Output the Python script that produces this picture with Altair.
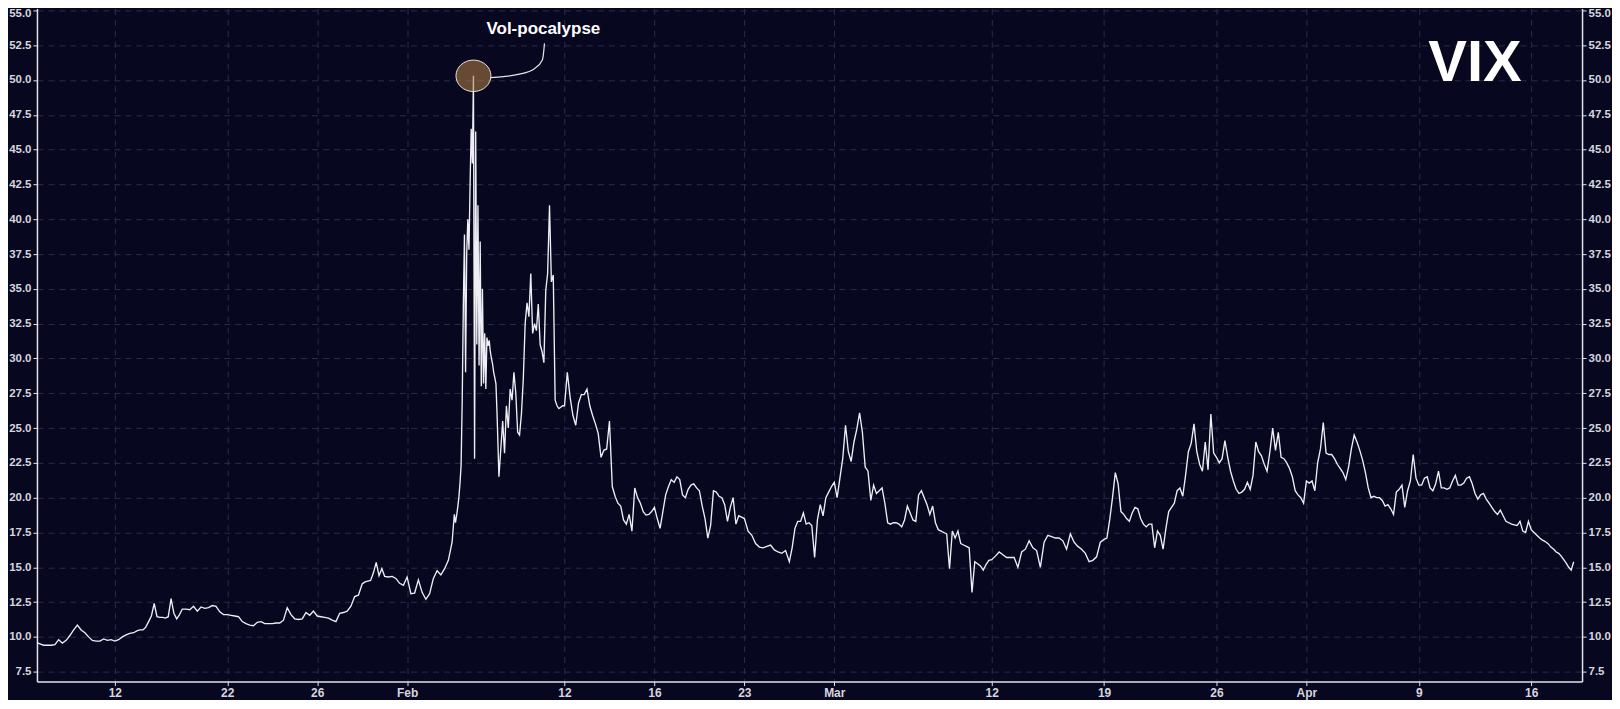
import altair as alt
import pandas as pd

# ---------------- data ----------------
trading_days = [
    "2018-01-08", "2018-01-09", "2018-01-10", "2018-01-11", "2018-01-12",
    "2018-01-16", "2018-01-17", "2018-01-18", "2018-01-19",
    "2018-01-22", "2018-01-23", "2018-01-24", "2018-01-25", "2018-01-26",
    "2018-01-29", "2018-01-30", "2018-01-31", "2018-02-01", "2018-02-02",
    "2018-02-05", "2018-02-06", "2018-02-07", "2018-02-08", "2018-02-09",
    "2018-02-12", "2018-02-13", "2018-02-14", "2018-02-15", "2018-02-16",
    "2018-02-20", "2018-02-21", "2018-02-22", "2018-02-23",
    "2018-02-26", "2018-02-27", "2018-02-28", "2018-03-01", "2018-03-02",
    "2018-03-05", "2018-03-06", "2018-03-07", "2018-03-08", "2018-03-09",
    "2018-03-12", "2018-03-13", "2018-03-14", "2018-03-15", "2018-03-16",
    "2018-03-19", "2018-03-20", "2018-03-21", "2018-03-22", "2018-03-23",
    "2018-03-26", "2018-03-27", "2018-03-28", "2018-03-29",
    "2018-04-02", "2018-04-03", "2018-04-04", "2018-04-05", "2018-04-06",
    "2018-04-09", "2018-04-10", "2018-04-11", "2018-04-12", "2018-04-13",
    "2018-04-16", "2018-04-17",
]

# intraday VIX readings, one list per trading day
jan_vix = [
    [9.65, 9.65, 9.6, 9.6, 9.5, 9.4],
    [9.4, 9.4, 9.45, 9.8, 9.55, 9.75],
    [10.1, 10.5, 10.85, 10.5, 10.3, 10.0],
    [9.75, 9.7, 9.7, 9.85, 9.75, 9.8],
    [9.7, 9.8, 10.0, 10.15, 10.25, 10.3],
    [10.45, 10.5, 10.5, 10.7, 11.1, 11.5, 12.4, 11.45],
    [11.4, 11.4, 11.35, 11.45, 12.75, 11.7, 11.3, 11.6],
    [12.0, 12.0, 11.95, 12.2, 11.85, 12.15],
    [12.05, 12.1, 12.25, 12.2, 11.8, 11.6],
    [11.6, 11.55, 11.5, 11.45, 11.1, 10.95],
    [10.85, 10.8, 11.05, 11.1, 10.95, 10.95],
    [10.95, 11.0, 11.0, 11.2, 12.1, 11.6],
    [11.3, 11.25, 11.3, 11.75, 11.55, 11.85],
    [11.5, 11.45, 11.4, 11.35, 11.2, 11.1],
    [11.7, 11.75, 11.85, 12.2, 12.9, 13.0],
    [13.8, 13.95, 14.0, 14.05, 14.6, 15.35, 14.4, 14.9],
    [14.35, 14.3, 14.35, 14.2, 13.85, 13.7],
]
feb_vix = [
    [14.3, 13.1, 13.15, 14.1, 13.2, 12.7],
    [13.1, 14.2, 14.75, 14.45, 14.9, 15.5],
    [16.8, 17.8, 18.8, 18.2, 18.7, 19.3, 20.0, 21.0, 22.3, 27.0,
     33.8, 38.9, 29.0, 37.5, 40.0, 37.8, 42.5, 46.5, 44.0, 50.3],
    [22.8, 46.3, 31.0, 41.0, 29.5, 38.4, 28.0, 35.0, 28.2, 31.8,
     27.8, 31.5, 30.9, 31.3, 30.5, 30.0, 29.6, 29.0, 28.6, 28.2],
    [26.0, 21.5, 23.5, 25.5, 23.2, 26.6, 25.0, 27.8, 27.0, 29.0, 27.5, 24.7],
    [24.5, 26.0, 28.5, 32.5, 34.0, 33.0, 36.1, 31.8, 32.5, 32.0, 33.9, 31.0],
    [30.5, 29.7, 34.9, 36.1, 41.0, 35.5, 36.0, 27.0, 26.6, 26.4, 26.5, 26.6],
    [26.6, 29.0, 27.2, 25.9, 25.2, 26.8, 27.4, 27.4],
    [27.8, 26.6, 25.9, 25.3, 24.6, 22.9, 23.4, 23.5],
    [25.5, 20.8, 20.1, 19.6, 19.4, 18.4, 18.1, 18.8],
    [17.6, 20.7, 20.0, 19.6, 19.0, 18.75, 18.8, 19.0],
    [19.3, 18.5, 17.8, 19.0, 20.2, 20.8, 21.3, 21.1],
    [21.5, 21.3, 20.2, 20.0, 20.6, 20.9, 21.0, 20.7],
    [20.5, 19.4, 18.5, 17.1, 18.0, 20.5, 20.4, 20.1],
    [20.0, 19.5, 18.3, 19.3, 20.0, 18.1, 18.7, 18.6],
    [18.5, 17.6, 17.3, 16.7, 16.45, 16.4],
    [16.5, 16.6, 16.25, 16.1, 16.0, 16.2],
    [15.4, 16.4, 17.8, 18.3, 18.3, 18.9, 18.1, 18.2],
    [18.0, 15.7, 18.4, 19.5, 18.7, 20.0, 20.4, 20.8],
]
mar_vix = [
    [21.1, 20.0, 21.4, 22.8, 25.2, 23.3, 22.6, 24.0],
    [24.9, 26.1, 24.7, 22.2, 21.9, 19.8, 20.9, 20.3],
    [20.5, 20.7, 19.6, 18.2, 18.1, 18.2, 18.2, 18.1],
    [17.9, 18.4, 19.4, 18.9, 18.4, 18.3, 20.2, 20.5],
    [20.0, 19.5, 18.8, 19.4, 18.2, 17.7, 17.6, 17.5],
    [17.4, 14.9, 17.6, 17.1, 17.6, 16.7, 16.6, 16.5],
    [16.4, 13.2, 15.4, 15.25, 15.1, 14.8, 15.2, 15.5],
    [15.55, 15.8, 16.1, 15.9, 15.7, 15.7],
    [15.7, 15.0, 16.1, 16.3, 16.9, 16.4],
    [16.2, 15.0, 16.8, 17.3, 17.2, 17.1],
    [17.1, 16.9, 16.3, 17.4, 16.8, 16.5],
    [16.3, 16.0, 15.4, 15.5, 15.75, 16.8],
    [17.0, 17.1, 18.4, 20.0, 21.8, 21.0, 19.0, 18.8],
    [18.5, 18.3, 18.9, 19.3, 19.2, 18.5, 18.1, 17.9],
    [18.1, 18.1, 16.4, 17.6, 17.3, 16.3, 17.8, 19.0],
    [19.3, 19.6, 20.5, 20.7, 20.1, 21.6, 23.3, 23.9],
    [25.3, 23.3, 22.4, 21.9, 24.0, 22.0, 26.0, 23.2],
    [22.9, 22.5, 22.8, 24.1, 22.9, 21.9, 21.2, 20.6],
    [20.3, 20.4, 20.6, 21.1, 20.6, 21.6, 24.0, 23.3],
    [23.0, 22.4, 21.9, 23.3, 25.0, 23.4, 24.7, 22.9],
    [22.8, 22.5, 22.1, 21.5, 20.5, 20.2, 20.0, 19.6],
]
apr_vix = [
    [21.2, 21.05, 21.2, 20.5, 22.5, 23.5, 25.4, 23.2],
    [23.1, 23.1, 22.8, 22.4, 22.1, 21.8, 21.3, 22.2],
    [23.5, 24.5, 24.0, 23.4, 22.7, 21.8, 20.7, 20.0],
    [20.1, 20.0, 20.0, 19.8, 19.4, 19.5, 19.2, 18.8],
    [20.4, 20.6, 20.9, 19.3, 20.5, 21.2, 23.1, 21.4],
    [20.9, 20.9, 21.4, 21.5, 20.7, 20.5, 21.0, 21.9],
    [20.7, 20.7, 20.6, 20.7, 21.2, 21.6, 20.9, 20.9],
    [21.05, 21.4, 21.5, 21.0, 20.3, 19.9, 20.2, 20.3],
    [19.9, 19.6, 19.3, 19.0, 18.8, 19.1, 18.7, 18.3],
    [18.2, 18.1, 18.05, 18.0, 18.3, 17.6, 17.5, 18.3],
    [17.7, 17.5, 17.3, 17.1, 16.95, 16.85, 16.7, 16.45],
    [16.3, 16.1, 16.0, 15.8, 15.55, 15.3, 15.0, 14.8, 15.4],
]

tick_dates = ["2018-01-12", "2018-01-22", "2018-01-26", "2018-02-01",
              "2018-02-12", "2018-02-16", "2018-02-23", "2018-03-01",
              "2018-03-12", "2018-03-19", "2018-03-26", "2018-04-02",
              "2018-04-09", "2018-04-16"]
tick_labels = ["12", "22", "26", "Feb", "12", "16", "23", "Mar",
               "12", "19", "26", "Apr", "9", "16"]
y_ticks = [7.5, 10.0, 12.5, 15.0, 17.5, 20.0, 22.5, 25.0, 27.5, 30.0,
           32.5, 35.0, 37.5, 40.0, 42.5, 45.0, 47.5, 50.0, 52.5, 55.0]

annotation_text = "Vol-pocalypse"
title_text = "VIX"
title_at = {"t": 64.5, "vix": 49.9}          # where the big "VIX" sits (data units)
connector_dt = [0.76, 2.04, 2.71, 3.07, 3.16]   # curve from the circled peak
connector_dv = [-0.13, 0.12, 0.51, 1.15, 2.33]

# ---------------- build tables ----------------
rows = []
for day_i, vals in enumerate(jan_vix + feb_vix + mar_vix + apr_vix):
    n = len(vals)
    for k, v in enumerate(vals):
        rows.append({"t": day_i + k / n, "vix": v, "date": trading_days[day_i]})
df = pd.DataFrame(rows)

peak = df.loc[df["vix"].idxmax()]
peak_df = pd.DataFrame([{"t": peak["t"], "vix": peak["vix"], "label": annotation_text}])
conn_df = pd.DataFrame({
    "t": [peak["t"] + d for d in connector_dt],
    "vix": [peak["vix"] + d for d in connector_dv],
    "o": list(range(len(connector_dt))),
})
title_df = pd.DataFrame([{"t": title_at["t"], "vix": title_at["vix"], "label": title_text}])

tick_idx = [trading_days.index(d) for d in tick_dates]
label_expr = ""
for i, lab in zip(tick_idx, tick_labels):
    label_expr += f"datum.value == {i} ? '{lab}' : "
label_expr += "''"

# ---------------- styling ----------------
BG = "#07071f"
GRID = "#2c2c4a"
AXIS = "#e4e4ea"
LABEL = "#d6d6de"
FONT = "Liberation Sans"

x_scale = alt.Scale(domain=[0.535, 69.26], nice=False, zero=False)
y_scale = alt.Scale(domain=[6.79, 55.14], nice=False, zero=False)

top_label_shift = {"condition": {"test": "datum.value == 55", "value": 3}, "value": 0}

x_axis = alt.Axis(values=tick_idx, labelExpr=label_expr, title=None,
                  grid=True, gridColor=GRID, gridDash=[6, 5], gridWidth=1,
                  domainColor=AXIS, domainWidth=1.5, tickColor=AXIS, tickSize=4,
                  labelColor=LABEL, labelFont=FONT, labelFontWeight="bold",
                  labelFontSize=12, labelPadding=2)
y_left = alt.Axis(values=y_ticks, format=".1f", title=None, orient="left",
                  grid=True, gridColor=GRID, gridDash=[6, 5], gridWidth=1,
                  domainColor=AXIS, domainWidth=1.5, tickColor=AXIS, tickSize=4,
                  labelColor=LABEL, labelFont=FONT, labelFontWeight="bold",
                  labelFontSize=11.5, labelPadding=2, labelOffset=top_label_shift)
y_right = alt.Axis(values=y_ticks, format=".1f", title=None, orient="right",
                   grid=False,
                   domainColor=AXIS, domainWidth=1.5, tickColor=AXIS, tickSize=4,
                   labelColor=LABEL, labelFont=FONT, labelFontWeight="bold",
                   labelFontSize=11.5, labelPadding=2, labelOffset=top_label_shift)

X = alt.X("t:Q", scale=x_scale, axis=x_axis)

line = alt.Chart(df).mark_line(color="#eeeef4", strokeWidth=1.35, clip=True).encode(
    x=X,
    y=alt.Y("vix:Q", scale=y_scale, axis=y_left),
)

ellipse = alt.Chart(peak_df).mark_point(
    shape="M -1 0 A 1 0.9 0 1 0 1 0 A 1 0.9 0 1 0 -1 0 Z",
    size=1225, filled=True, fill="#b48246", fillOpacity=0.55,
    stroke="#ece2d2", strokeWidth=1, strokeOpacity=1, opacity=1,
).encode(
    x=X,
    y=alt.Y("vix:Q", scale=y_scale, axis=y_right),
)

connector = alt.Chart(conn_df).mark_line(
    color="#e6e6ea", strokeWidth=1.2, interpolate="monotone"
).encode(
    x=X,
    y=alt.Y("vix:Q", scale=y_scale, axis=None),
    order="o:O",
)

ann_text = alt.Chart(peak_df).mark_text(
    font=FONT, fontWeight="bold", fontSize=17, color="#ffffff",
    align="center", baseline="alphabetic", dx=70, dy=-42,
).encode(
    x=X,
    y=alt.Y("vix:Q", scale=y_scale, axis=None),
    text="label:N",
)

big_title = alt.Chart(title_df).mark_text(
    font=FONT, fontWeight="bold", fontSize=58, color="#ffffff",
    align="center", baseline="alphabetic",
).encode(
    x=X,
    y=alt.Y("vix:Q", scale=y_scale, axis=None),
    text="label:N",
)

chart = alt.layer(line, ellipse, connector, ann_text, big_title).resolve_axis(
    y="independent"
).properties(
    width=1547, height=674,
    autosize=alt.AutoSizeParams(type="none"),
    padding={"left": 29, "top": 0, "right": 30, "bottom": 18},
    background=BG,
).configure_view(strokeWidth=0)

chart.save("out.html", embed_options={"renderer": "svg", "actions": False})
